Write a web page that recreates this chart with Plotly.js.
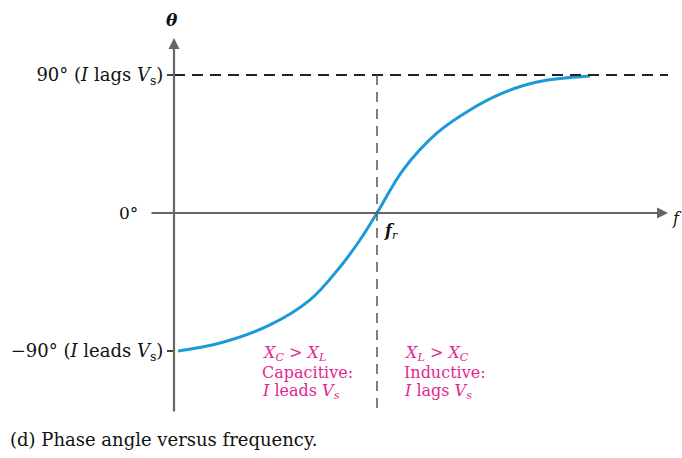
<!DOCTYPE html>
<html>
<head>
<meta charset="utf-8">
<script src="https://cdn.plot.ly/plotly-3.0.1.min.js"></script>
<style>html,body{margin:0;padding:0;background:#fff;}#chart{width:682px;height:458px;}</style>
</head>
<body>
<div id="chart"></div>
<script>
// Normalised frequency f/fr and phase angle (degrees)
const freq  = [0.02, 0.227, 0.473, 0.670, 0.818, 0.916, 1.0, 1.128, 1.296, 1.458, 1.621, 1.788, 2.049];
const phase = [-90, -84.8, -73.0, -56.7, -35.2, -17.6, 0, 28.0, 52.2, 67.2, 78.3, 85.4, 89.3];
const tickVals = [90, -90];
const tickText = ['90° (<i>I</i> lags <i>V</i><sub>s</sub>)', '−90° (<i>I</i> leads <i>V</i><sub>s</sub>)'];
const fr = 1.0;

const serif = 'DejaVu Serif, serif';
const pink = '#e4278f';

const trace = {
  x: freq, y: phase, type: 'scatter', mode: 'lines',
  line: {shape: 'spline', smoothing: 1, color: '#1c9ad8', width: 3},
  hoverinfo: 'skip'
};

const layout = {
  width: 682, height: 458,
  margin: {l: 0, r: 0, t: 0, b: 0},
  paper_bgcolor: '#fff', plot_bgcolor: '#fff',
  showlegend: false,
  xaxis: {range: [-174/203, 508/203], visible: false, fixedrange: true},
  yaxis: {
    range: [-245/1.53333, 213/1.53333],
    anchor: 'free', position: 174/682, side: 'left',
    showgrid: false, zeroline: false, showline: false,
    ticks: 'outside', ticklen: 7, tickwidth: 1.5, tickcolor: '#444',
    tickvals: tickVals, ticktext: tickText,
    tickfont: {family: serif, size: 18, color: '#111'},
    fixedrange: true
  },
  shapes: [
    {type: 'line', xref: 'x', yref: 'y', x0: 0, x1: 2.4335, y0: 90, y1: 90,
     line: {color: '#222', width: 1.8, dash: '11px,7px'}},
    {type: 'line', xref: 'x', yref: 'y', x0: fr, x1: fr, y0: 90, y1: -130.4,
     line: {color: '#555', width: 1.5, dash: '10px,7px'}}
  ],
  annotations: [
    {x: 2.4335, y: 0, ax: -24/203, ay: 0, axref: 'x', ayref: 'y', xref: 'x', yref: 'y',
     text: '', showarrow: true, arrowhead: 2, arrowsize: 1, arrowwidth: 2.2, arrowcolor: '#666'},
    {x: 0, y: 175/1.53333, ax: 0, ay: -200/1.53333, axref: 'x', ayref: 'y', xref: 'x', yref: 'y',
     text: '', showarrow: true, arrowhead: 2, arrowsize: 1, arrowwidth: 2.2, arrowcolor: '#666'},
    {x: -34/203, y: 0, xref: 'x', yref: 'y', xanchor: 'right', yanchor: 'middle', showarrow: false,
     text: '0°', font: {family: serif, size: 17, color: '#111'}},
    {x: -2/203, y: 193/1.53333, xref: 'x', yref: 'y', xanchor: 'center', yanchor: 'middle', showarrow: false,
     text: '<b><i>θ</i></b>', font: {family: serif, size: 17, color: '#111'}},
    {x: fr + 5/203, y: -18/1.53333, xref: 'x', yref: 'y', xanchor: 'left', yanchor: 'middle', showarrow: false,
     text: '<b><i>f</i></b><sub><i>r</i></sub>', font: {family: serif, size: 16, color: '#111'}},
    {x: 496/203, y: -5/1.53333, xref: 'x', yref: 'y', xanchor: 'left', yanchor: 'middle', showarrow: false,
     text: '<i>f</i>', font: {family: serif, size: 16, color: '#111'}},
    {x: 86/203, y: -140/1.53333, xref: 'x', yref: 'y', xanchor: 'left', yanchor: 'middle', showarrow: false,
     text: '<i>X</i><sub><i>C</i></sub> &gt; <i>X</i><sub><i>L</i></sub>', font: {family: serif, size: 16, color: pink}},
    {x: 86/203, y: -159/1.53333, xref: 'x', yref: 'y', xanchor: 'left', yanchor: 'middle', showarrow: false,
     text: 'Capacitive:', font: {family: serif, size: 16, color: pink}},
    {x: 86/203, y: -178/1.53333, xref: 'x', yref: 'y', xanchor: 'left', yanchor: 'middle', showarrow: false,
     text: '<i>I</i> leads <i>V</i><sub><i>s</i></sub>', font: {family: serif, size: 16, color: pink}},
    {x: 228/203, y: -140/1.53333, xref: 'x', yref: 'y', xanchor: 'left', yanchor: 'middle', showarrow: false,
     text: '<i>X</i><sub><i>L</i></sub> &gt; <i>X</i><sub><i>C</i></sub>', font: {family: serif, size: 16, color: pink}},
    {x: 228/203, y: -159/1.53333, xref: 'x', yref: 'y', xanchor: 'left', yanchor: 'middle', showarrow: false,
     text: 'Inductive:', font: {family: serif, size: 16, color: pink}},
    {x: 228/203, y: -178/1.53333, xref: 'x', yref: 'y', xanchor: 'left', yanchor: 'middle', showarrow: false,
     text: '<i>I</i> lags <i>V</i><sub><i>s</i></sub>', font: {family: serif, size: 16, color: pink}},
    {x: -166/203, y: -226/1.53333, xref: 'x', yref: 'y', xanchor: 'left', yanchor: 'middle', showarrow: false,
     text: '(d) Phase angle versus frequency.', font: {family: serif, size: 18, color: '#111'}}
  ]
};

Plotly.newPlot('chart', [trace], layout, {displayModeBar: false, staticPlot: true});
</script>
</body>
</html>
